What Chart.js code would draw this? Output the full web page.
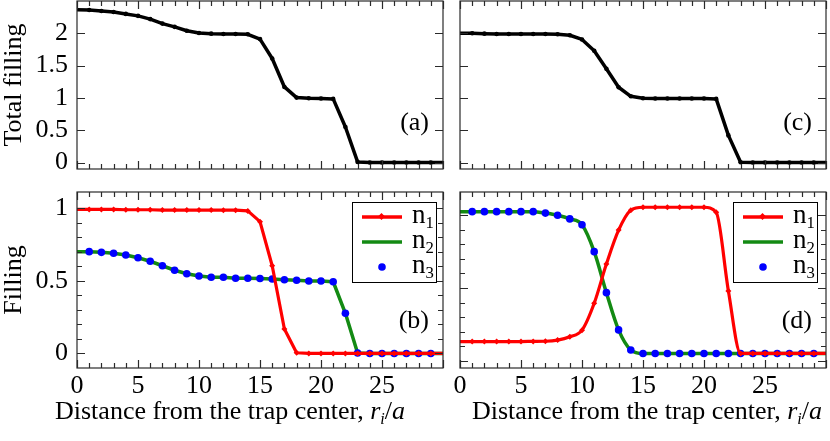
<!DOCTYPE html>
<html>
<head>
<meta charset="utf-8">
<script src="https://cdn.jsdelivr.net/npm/chart.js@4/dist/chart.umd.min.js"></script>
<style>
  html, body { margin: 0; padding: 0; background: #fff; }
  body { width: 830px; height: 441px; position: relative; overflow: hidden;
         font-family: 'Liberation Serif', 'Times New Roman', serif; color: #000; }
  .pane { position: absolute; }
  .xtitle { position: absolute; top: 396px; font-size: 26px; line-height: 30px; white-space: nowrap; }
  .xtitle sub, .legend sub { font-size: 62%; vertical-align: -0.28em; line-height: 0; }
  .tag { position: absolute; font-size: 26px; line-height: 30px; text-align: right; width: 60px; }
  .legend { position: absolute; width: 85px; height: 81px; border: 1px solid #000;
            box-sizing: border-box; background: #fff; }
  .legend .row { position: absolute; left: 0; height: 24px; display: flex; align-items: center; }
  .legend svg { margin-left: 9px; }
  .legend span { margin-left: 10px; font-size: 27px; line-height: 24px; position: relative; top: -3px; }
</style>
</head>
<body>
<canvas id="chartA" class="pane" style="left:0;top:0" width="450" height="175"></canvas>
<canvas id="chartB" class="pane" style="left:0;top:175px" width="450" height="266"></canvas>
<canvas id="chartC" class="pane" style="left:450px;top:0" width="380" height="175"></canvas>
<canvas id="chartD" class="pane" style="left:450px;top:175px" width="380" height="266"></canvas>

<div class="tag" style="left:369px;top:107px">(a)</div>
<div class="tag" style="left:369px;top:305px">(b)</div>
<div class="tag" style="left:752px;top:107px">(c)</div>
<div class="tag" style="left:752px;top:305px">(d)</div>

<div class="xtitle" style="left:55px">Distance from the trap center, <i>r<sub>i</sub></i>/<i>a</i></div>
<div class="xtitle" style="left:472px">Distance from the trap center, <i>r<sub>i</sub></i>/<i>a</i></div>

<div class="legend" style="left:352px;top:202px">
  <div class="row" style="top:2px"><svg width="40" height="10"><line x1="0" y1="5" x2="40" y2="5" stroke="#ff0000" stroke-width="3.5"/><rect x="17" y="2" width="5" height="5" fill="#ff0000" transform="rotate(45 19.5 4.5)"/></svg><span>n<sub>1</sub></span></div>
  <div class="row" style="top:27px"><svg width="40" height="10"><line x1="0" y1="5" x2="40" y2="5" stroke="#138a13" stroke-width="3.5"/></svg><span>n<sub>2</sub></span></div>
  <div class="row" style="top:52px"><svg width="40" height="10"><circle cx="20" cy="5" r="3.8" fill="#0000ff"/></svg><span>n<sub>3</sub></span></div>
</div>
<div class="legend" style="left:733px;top:202px">
  <div class="row" style="top:2px"><svg width="40" height="10"><line x1="0" y1="5" x2="40" y2="5" stroke="#ff0000" stroke-width="3.5"/><rect x="17" y="2" width="5" height="5" fill="#ff0000" transform="rotate(45 19.5 4.5)"/></svg><span>n<sub>1</sub></span></div>
  <div class="row" style="top:27px"><svg width="40" height="10"><line x1="0" y1="5" x2="40" y2="5" stroke="#138a13" stroke-width="3.5"/></svg><span>n<sub>2</sub></span></div>
  <div class="row" style="top:52px"><svg width="40" height="10"><circle cx="20" cy="5" r="3.8" fill="#0000ff"/></svg><span>n<sub>3</sub></span></div>
</div>

<script>
// lattice sites along the trap radius
var sites = [0, 1, 2, 3, 4, 5, 6, 7, 8, 9, 10, 11, 12, 13, 14, 15, 16, 17, 18, 19, 20,
             21, 22, 23, 24, 25, 26, 27, 28, 29, 30];

// (a) and (c): total filling
var totalA = [2.365, 2.36, 2.345, 2.33, 2.30, 2.27, 2.22, 2.15, 2.10, 2.04, 2.005, 1.995, 1.99, 1.99, 1.985,
              1.91, 1.61, 1.17, 1.005, 0.995, 0.99, 0.985, 0.55, 0.01, 0, 0, 0, 0, 0, 0, 0];
var totalC = [2.0, 2.0, 1.995, 1.99, 1.99, 1.99, 1.99, 1.99, 1.985, 1.97, 1.905, 1.73, 1.45, 1.165, 1.025,
              0.995, 0.99, 0.99, 0.99, 0.99, 0.99, 0.985, 0.42, 0.005, 0, 0, 0, 0, 0, 0, 0];

// (b): species fillings
var n1B = [0.99, 0.99, 0.99, 0.99, 0.988, 0.988, 0.988, 0.986, 0.986, 0.986, 0.986, 0.986, 0.985, 0.985, 0.98,
           0.906, 0.603, 0.168, 0.005, 0, 0, 0, 0, 0, 0, 0, 0, 0, 0, 0, 0];
var n2B = [0.70, 0.70, 0.695, 0.689, 0.677, 0.658, 0.634, 0.603, 0.572, 0.548, 0.532, 0.524, 0.524, 0.517, 0.517,
           0.515, 0.512, 0.507, 0.503, 0.498, 0.498, 0.493, 0.276, 0.003, 0, 0, 0, 0, 0, 0, 0];
var n3B = [null, 0.70, 0.695, 0.689, 0.677, 0.658, 0.634, 0.603, 0.572, 0.548, 0.532, 0.524, 0.524, 0.517, 0.517,
           0.515, 0.512, 0.507, 0.503, 0.498, 0.498, 0.493, 0.276, 0.003, 0, 0, 0, 0, 0, 0, null];

// (d): species fillings
var n1D = [0.082, 0.082, 0.082, 0.082, 0.082, 0.082, 0.083, 0.084, 0.092, 0.115, 0.16, 0.345, 0.615, 0.848, 0.985,
           1.005, 1.005, 1.005, 1.005, 1.005, 1.005, 0.97, 0.43, 0, 0, 0, 0, 0, 0, 0, 0];
var n2D = [0.975, 0.975, 0.975, 0.975, 0.975, 0.975, 0.975, 0.965, 0.95, 0.925, 0.885, 0.70, 0.418, 0.162, 0.024,
           0, 0, 0, 0, 0, 0, 0, 0, 0, 0, 0, 0, 0, 0, 0, 0];
var n3D = [null, 0.975, 0.975, 0.975, 0.975, 0.975, 0.975, 0.965, 0.95, 0.925, 0.885, 0.70, 0.418, 0.162, 0.024,
           0, 0, 0, 0, 0, 0, 0, 0, 0, 0, 0, 0, 0, 0, 0, null];

// ticks
var xTickLabels = [0, 5, 10, 15, 20, 25];
var yTicksTotal = [0, 0.5, 1, 1.5, 2];
var yTicksFill  = [0, 0.5, 1];
var yMinorB = [0, 0.1, 0.2, 0.3, 0.4, 0.5, 0.6, 0.7, 0.8, 0.9, 1];
var yMinorD = [-0.05, 0.05, 0.15, 0.25, 0.35, 0.45, 0.55, 0.65, 0.75, 0.85, 0.95];
var yMajorD = [-0.05, 0.45, 0.95];

var RED = '#ff0000', GREEN = '#138a13', BLUE = '#0000ff';

Chart.defaults.font.family = "'Liberation Serif', 'Times New Roman', serif";
Chart.defaults.font.size = 26;
Chart.defaults.color = '#000';

function pts(vals) {
  return sites.map(function(s, i) { return {x: s, y: vals[i]}; });
}
function edgeRadius(r) {
  return function(ctx) {
    return (ctx.dataIndex === 0 || ctx.dataIndex === sites.length - 1) ? 0 : r;
  };
}
function noPad(s) {
  s.paddingTop = 0; s.paddingBottom = 0; s.paddingLeft = 0; s.paddingRight = 0;
}

// frame with inward ticks on all four sides
var framePlugin = {
  id: 'frame',
  afterDatasetsDraw: function(chart, args, opts) {
    var ctx = chart.ctx, a = chart.chartArea;
    var xs = chart.scales.x, ys = chart.scales.y;
    ctx.save();
    ctx.strokeStyle = '#2a2a2a';
    ctx.lineWidth = 1.2;
    ctx.strokeRect(a.left, a.top, a.right - a.left, a.bottom - a.top);
    ctx.beginPath();
    sites.forEach(function(v) {
      var px = Math.round(xs.getPixelForValue(v)) + 0.5;
      var len = v % 5 === 0 ? 8 : 5;
      ctx.moveTo(px, a.bottom); ctx.lineTo(px, a.bottom - len);
      ctx.moveTo(px, a.top); ctx.lineTo(px, a.top + len);
    });
    opts.yTicks.forEach(function(v) {
      var py = Math.round(ys.getPixelForValue(v)) + 0.5;
      var len = opts.yMajor.indexOf(v) >= 0 ? 8 : 5;
      ctx.moveTo(a.left, py); ctx.lineTo(a.left + len, py);
      ctx.moveTo(a.right, py); ctx.lineTo(a.right - len, py);
    });
    ctx.stroke();
    ctx.restore();
  }
};

function makePanel(id, p) {
  var xScale = {
    type: 'linear', min: 0, max: 30, display: p.showX,
    grid: {display: false, drawTicks: false}, border: {display: false},
    ticks: {
      padding: 3, autoSkip: false, maxRotation: 0,
      callback: function(v) { return xTickLabels.indexOf(v) >= 0 ? String(v) : ''; }
    },
    afterBuildTicks: function(s) { s.ticks = sites.map(function(v) { return {value: v}; }); }
  };
  if (p.showX) xScale.afterFit = function(s) { s.height = 73; noPad(s); };

  var yScale = {
    type: 'linear', min: p.yMin, max: p.yMax, display: p.showY,
    grid: {display: false, drawTicks: false}, border: {display: false},
    ticks: {padding: 9, callback: function(v) { return String(v); }},
    afterBuildTicks: function(s) { s.ticks = p.yLabels.map(function(v) { return {value: v}; }); },
    title: {display: !!p.yTitle, text: p.yTitle, font: {size: 26, lineHeight: 1}, padding: {top: 1, bottom: 0}}
  };
  if (p.showY) yScale.afterFit = function(s) { s.width = 77; noPad(s); };

  return new Chart(document.getElementById(id), {
    type: 'line',
    data: {datasets: p.datasets},
    options: {
      responsive: false, animation: false, devicePixelRatio: 1,
      layout: {padding: p.padding, autoPadding: false},
      plugins: {
        legend: {display: false}, tooltip: {enabled: false},
        frame: {yTicks: p.yTicks, yMajor: p.yMajor}
      },
      scales: {x: xScale, y: yScale}
    },
    plugins: [framePlugin]
  });
}

function totalSet(vals) {
  return [{
    data: pts(vals), borderColor: '#000', backgroundColor: '#000', borderWidth: 3.5,
    pointRadius: edgeRadius(2.3), pointBorderWidth: 0, borderJoinStyle: 'round'
  }];
}
function fillSets(a, b, c, smooth) {
  var mode = smooth ? 'monotone' : 'default';
  return [
    {data: pts(a), borderColor: RED, backgroundColor: RED, borderWidth: 3.2, order: 0,
     pointStyle: 'rectRot', pointRadius: edgeRadius(3), pointBorderWidth: 0,
     cubicInterpolationMode: mode, borderJoinStyle: 'round'},
    {data: pts(c), showLine: false, backgroundColor: BLUE, borderColor: BLUE, order: 1,
     pointRadius: 3.8, pointBorderWidth: 0},
    {data: pts(b), borderColor: GREEN, borderWidth: 3.5, pointRadius: 0, order: 2,
     cubicInterpolationMode: mode, borderJoinStyle: 'round'}
  ];
}

makePanel('chartA', {
  showX: false, showY: true, yTitle: 'Total filling', yMin: -0.1, yMax: 2.5,
  yLabels: yTicksTotal, yTicks: yTicksTotal, yMajor: yTicksTotal,
  padding: {left: 0, top: 1, right: 7, bottom: 6}, datasets: totalSet(totalA)
});
makePanel('chartB', {
  showX: true, showY: true, yTitle: 'Filling', yMin: -0.1, yMax: 1.11,
  yLabels: yTicksFill, yTicks: yMinorB, yMajor: yTicksFill,
  padding: {left: 0, top: 17, right: 7, bottom: 0}, datasets: fillSets(n1B, n2B, n3B, false)
});
makePanel('chartC', {
  showX: false, showY: false, yTitle: '', yMin: -0.1, yMax: 2.5,
  yLabels: yTicksTotal, yTicks: yTicksTotal, yMajor: yTicksTotal,
  padding: {left: 10, top: 1, right: 4, bottom: 6}, datasets: totalSet(totalC)
});
makePanel('chartD', {
  showX: true, showY: false, yTitle: '', yMin: -0.1, yMax: 1.11,
  yLabels: [], yTicks: yMinorD, yMajor: yMajorD,
  padding: {left: 10, top: 17, right: 4, bottom: 0}, datasets: fillSets(n1D, n2D, n3D, true)
});
</script>
</body>
</html>
